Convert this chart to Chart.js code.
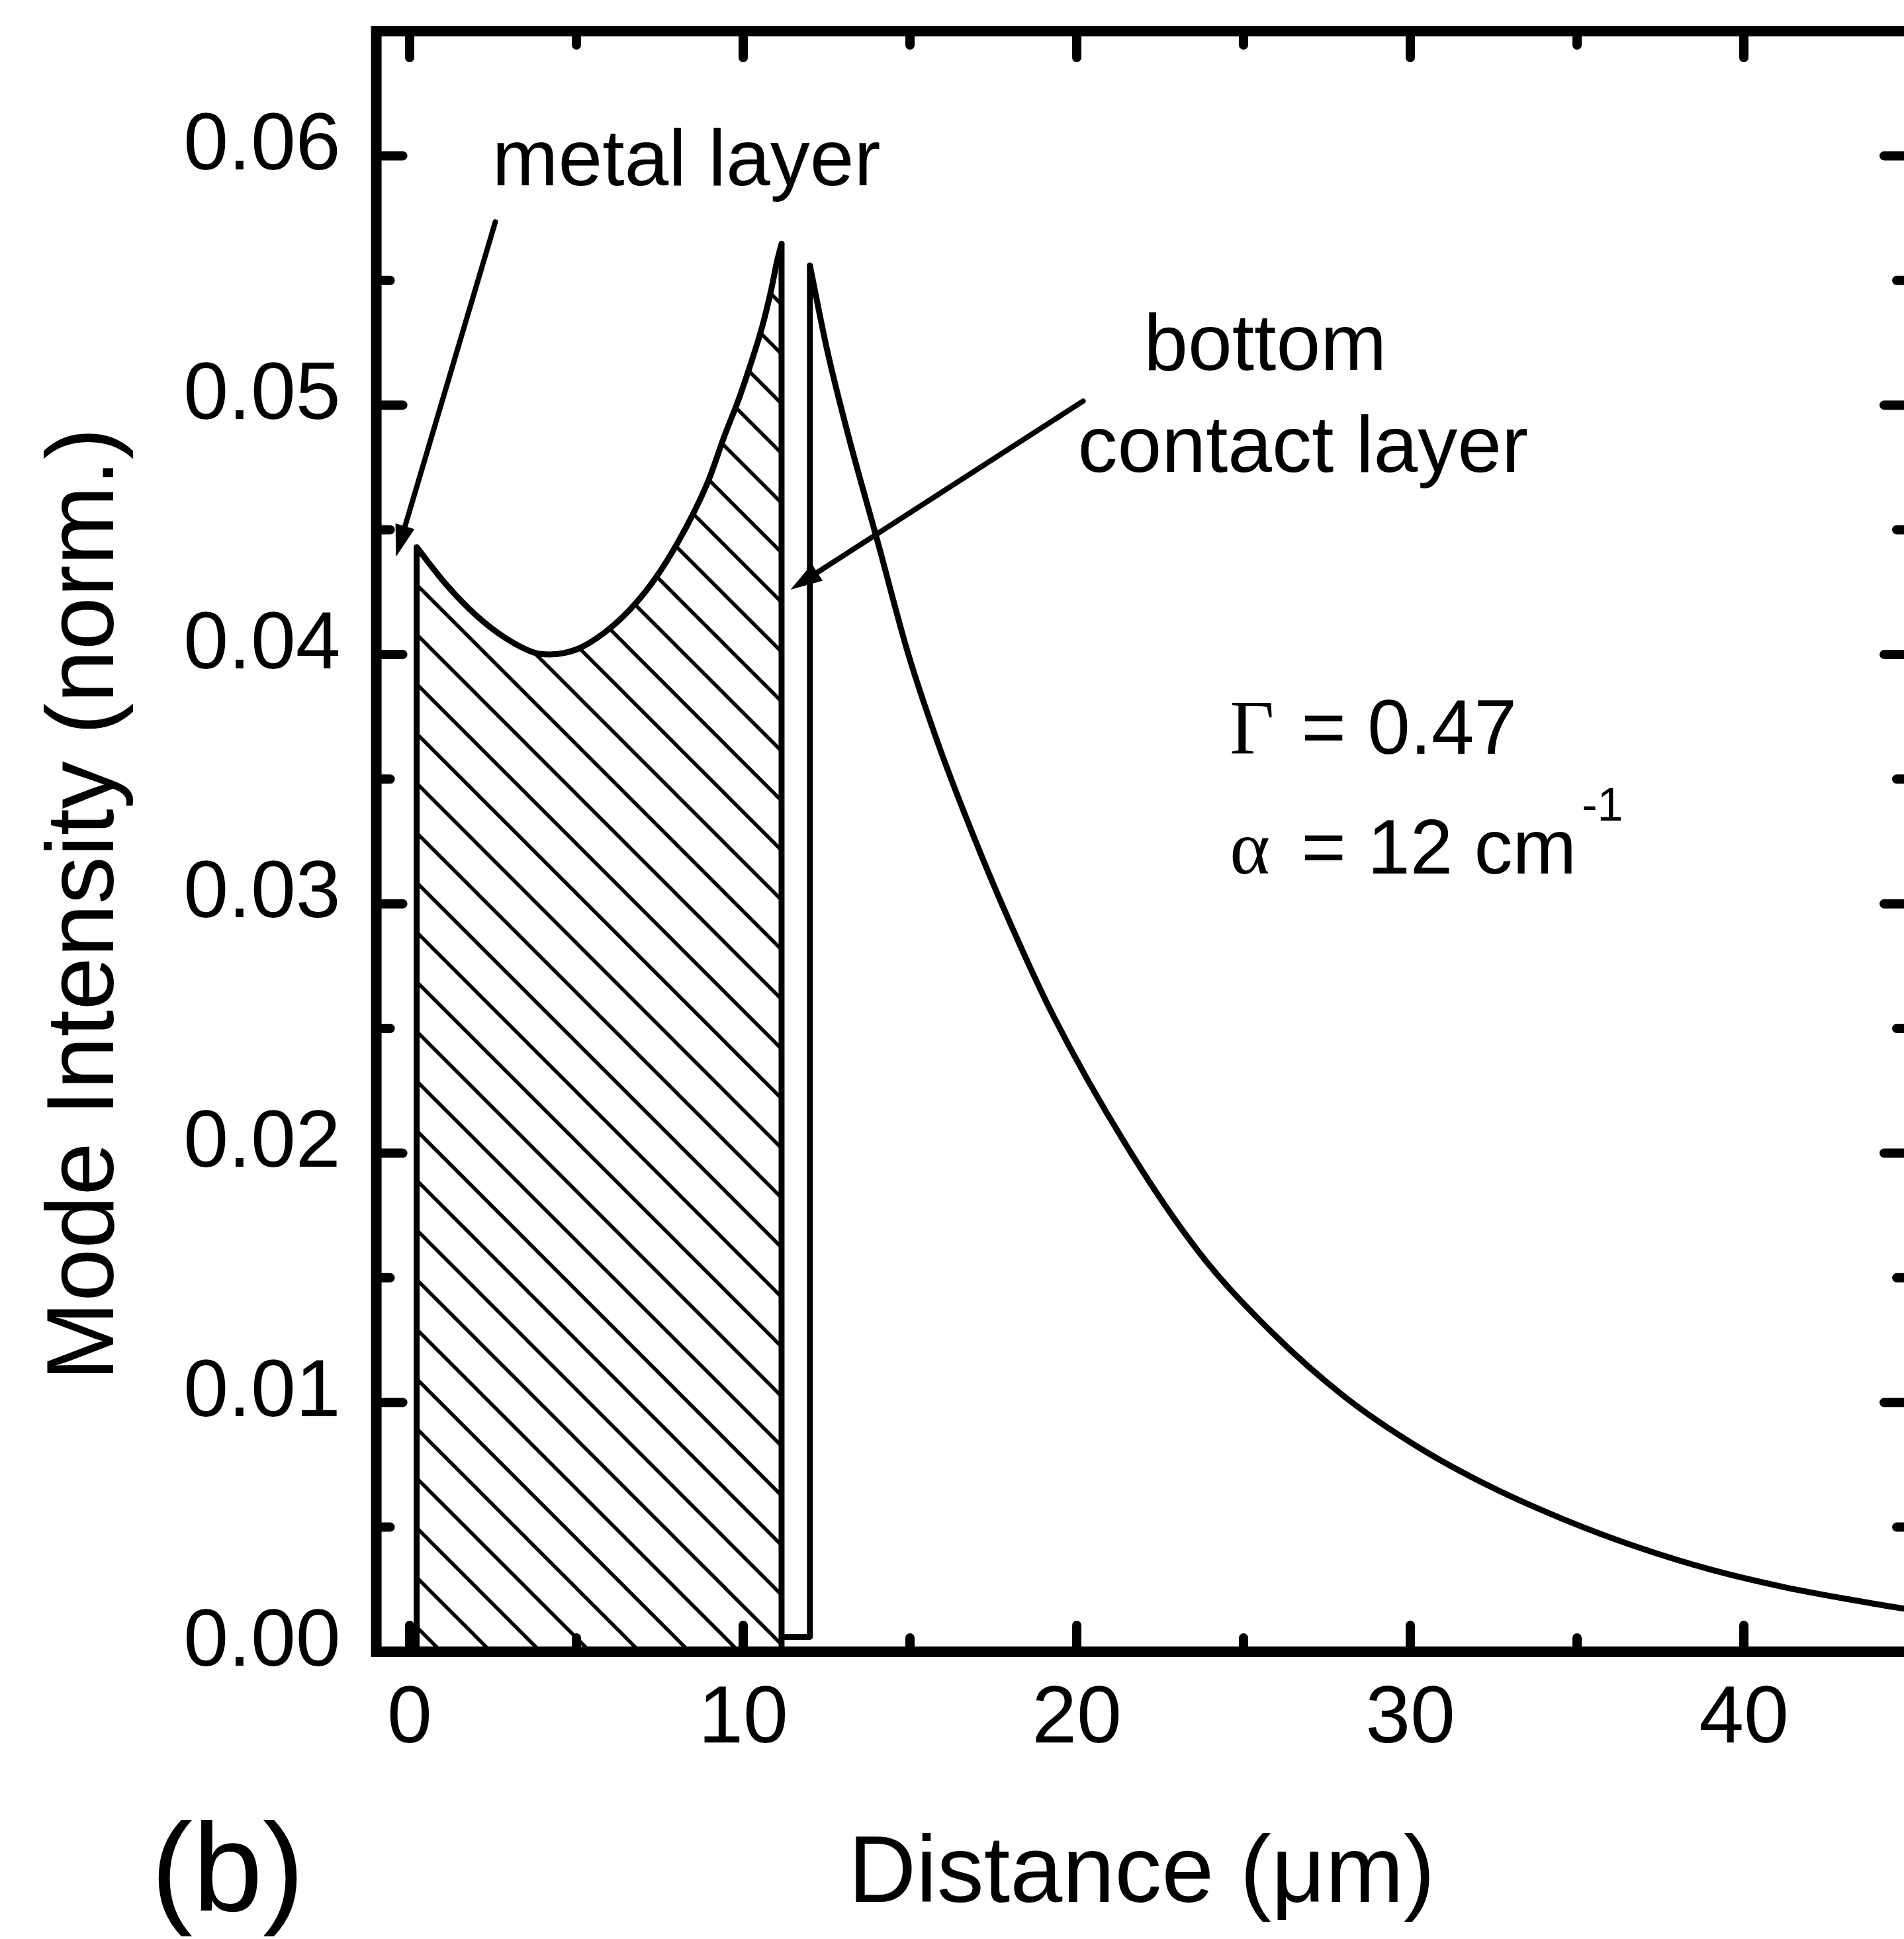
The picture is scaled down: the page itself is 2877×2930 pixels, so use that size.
<!DOCTYPE html>
<html lang="en">
<head>
  <meta charset="UTF-8">
  <title>Mode Intensity vs Distance</title>
  <script src="https://cdn.jsdelivr.net/npm/chart.js"></script>
  <style>
    html, body { margin: 0; padding: 0; background: #fff; overflow: hidden; }
    #wrap { width: 2877px; height: 2930px; overflow: hidden; }
  </style>
</head>
<body>
  <div id="wrap"><canvas id="modeChart" width="2940" height="2930"></canvas></div>

  <script>
    // axis ticks
    const xTicks = [0, 10, 20, 30, 40];
    const xMinorTicks = [5, 15, 25, 35];
    const yTicks = [0, 0.01, 0.02, 0.03, 0.04, 0.05, 0.06];
    const yMinorTicks = [0.005, 0.015, 0.025, 0.035, 0.045, 0.055];

    // active region profile (hatched)
    const layerX = [0.21, 1.1, 2.0, 2.87, 3.76, 4.2, 4.64, 5.17, 6.06, 6.77, 7.39, 8.0, 8.54, 8.98, 9.42, 9.87, 10.23, 10.58, 10.84, 11.02, 11.15];
    const layerY = [0.0443, 0.0428, 0.04156, 0.04066, 0.04006, 0.0400, 0.04006, 0.0403, 0.04111, 0.04204, 0.0431, 0.0444, 0.04575, 0.04705, 0.0487, 0.05025, 0.05167, 0.0532, 0.05463, 0.0558, 0.05647];

    // left edge of the active region
    const edgeX = [0.21, 0.21];
    const edgeY = [0, 0.0443];

    // right edge + bottom contact gap
    const gapX = [11.15, 11.15, 11.15, 12.0, 12.0];
    const gapY = [0.05647, 0, 0.0006, 0.0006, 0.0556];

    // decaying tail in the substrate
    const tailX = [12.0, 12.52, 13.12, 14.04, 14.95, 15.86, 16.91, 17.98, 19.3, 21.49, 23.68, 25.86, 28.06, 30.25, 32.44, 34.62, 36.81, 39.0, 41.19, 43.38, 44.87, 45.6];
    const tailY = [0.0556, 0.05219, 0.04894, 0.04448, 0.04001, 0.03636, 0.0327, 0.0293, 0.0255, 0.0203, 0.0160, 0.0128, 0.0102, 0.0082, 0.0066, 0.0053, 0.0042, 0.0033, 0.0026, 0.00205, 0.00172, 0.00163];

    const SANS = '"Liberation Sans", Arial, Helvetica, sans-serif';
    const SERIF = '"Liberation Serif", "Times New Roman", serif';

    function hatchPattern(ctx) {
      const s = 75;
      const c = document.createElement('canvas');
      c.width = s; c.height = s;
      const g = c.getContext('2d');
      g.strokeStyle = '#000';
      g.lineWidth = 5.5;
      g.beginPath();
      g.moveTo(-6, -6); g.lineTo(s + 6, s + 6);
      g.moveTo(s - 12, -12); g.lineTo(s + 12, 12);
      g.moveTo(-12, s - 12); g.lineTo(12, s + 12);
      g.stroke();
      const p = ctx.createPattern(c, 'repeat');
      p.setTransform(new DOMMatrix([1, 0, 0, 1, 46, 0]));
      return p;
    }

    function arrow(ctx, x0, y0, x1, y1) {
      const dx = x1 - x0, dy = y1 - y0, L = Math.hypot(dx, dy);
      const ux = dx / L, uy = dy / L;
      const hl = 48, hw = 15;
      const bx = x1 - ux * hl, by = y1 - uy * hl;
      ctx.beginPath();
      ctx.moveTo(x0, y0);
      ctx.lineTo(bx + ux * 8, by + uy * 8);
      ctx.stroke();
      ctx.beginPath();
      ctx.moveTo(x1, y1);
      ctx.lineTo(bx - uy * hw, by + ux * hw);
      ctx.lineTo(bx + uy * hw, by - ux * hw);
      ctx.closePath();
      ctx.fill();
    }

    // frame, inward ticks, titles and labels
    const decorations = {
      id: 'decorations',
      afterDatasetsDraw(chart) {
        const { ctx, chartArea: a, scales: { x, y } } = chart;
        ctx.save();
        ctx.strokeStyle = '#000';
        ctx.fillStyle = '#000';

        ctx.lineWidth = 16;
        ctx.lineJoin = 'miter';
        ctx.strokeRect(a.left, a.top, a.right - a.left, a.bottom - a.top);

        ctx.lineWidth = 14;
        ctx.lineCap = 'round';
        const tick = (v, len, horiz) => {
          ctx.beginPath();
          if (horiz) {
            const px = x.getPixelForValue(v);
            ctx.moveTo(px, a.bottom); ctx.lineTo(px, a.bottom - len);
            ctx.moveTo(px, a.top); ctx.lineTo(px, a.top + len);
          } else {
            const py = y.getPixelForValue(v);
            ctx.moveTo(a.left, py); ctx.lineTo(a.left + len, py);
            ctx.moveTo(a.right, py); ctx.lineTo(a.right - len, py);
          }
          ctx.stroke();
        };
        xTicks.forEach(v => tick(v, 40, true));
        xMinorTicks.forEach(v => tick(v, 21, true));
        yTicks.filter(v => v > 0).forEach(v => tick(v, 40, false));
        yMinorTicks.forEach(v => tick(v, 21, false));

        // arrows
        ctx.lineWidth = 8;
        ctx.lineCap = 'round';
        arrow(ctx, x.getPixelForValue(2.57), y.getPixelForValue(0.05735),
                   x.getPixelForValue(-0.41), y.getPixelForValue(0.04392));
        arrow(ctx, x.getPixelForValue(20.19), y.getPixelForValue(0.05016),
                   x.getPixelForValue(11.42), y.getPixelForValue(0.04260));

        // annotation text
        ctx.textAlign = 'left';
        ctx.textBaseline = 'alphabetic';
        ctx.font = '120px ' + SANS;
        ctx.fillText('metal layer', x.getPixelForValue(2.47), y.getPixelForValue(0.05881));
        ctx.fillText('bottom', x.getPixelForValue(22.01), y.getPixelForValue(0.05141));
        ctx.fillText('contact layer', x.getPixelForValue(20.03), y.getPixelForValue(0.04732));

        const tx = x.getPixelForValue(24.59);
        let by = y.getPixelForValue(0.03601);
        ctx.font = '116px ' + SERIF;
        ctx.fillText('\u0393', tx, by);
        ctx.font = '116px ' + SANS;
        ctx.fillText('= 0.47', tx + 108, by);

        by = y.getPixelForValue(0.03121);
        ctx.font = '116px ' + SERIF;
        ctx.fillText('\u03B1', tx, by);
        ctx.font = '116px ' + SANS;
        const main = '= 12 cm';
        ctx.fillText(main, tx + 108, by);
        const w = ctx.measureText(main).width;
        ctx.font = '70px ' + SANS;
        ctx.fillText('-1', tx + 108 + w + 8, by - 80);

        ctx.restore();
      },
      afterDraw(chart) {
        const { ctx, chartArea: a } = chart;
        ctx.save();
        ctx.fillStyle = '#000';
        ctx.textBaseline = 'alphabetic';
        ctx.textAlign = 'center';
        ctx.font = '142px ' + SANS;
        ctx.fillText('Distance (\u03BCm)', 1725, 2874);

        ctx.font = '190px ' + SANS;
        ctx.fillText('(b)', 344, 2887);

        ctx.translate(171, (a.top + a.bottom) / 2 + 95);
        ctx.rotate(-Math.PI / 2);
        ctx.font = '144px ' + SANS;
        ctx.fillText('Mode Intensity (norm.)', 0, 0);
        ctx.restore();
      }
    };

    const canvas = document.getElementById('modeChart');
    const ctx2d = canvas.getContext('2d');

    const pts = (xs, ys) => xs.map((v, i) => ({ x: v, y: ys[i] }));
    const lineStyle = { borderColor: '#000', borderWidth: 9, pointRadius: 0, fill: false, borderJoinStyle: 'round', borderCapStyle: 'round' };

    new Chart(canvas, {
      type: 'line',
      data: {
        datasets: [
          Object.assign({}, lineStyle, {
            data: pts(layerX, layerY),
            backgroundColor: hatchPattern(ctx2d),
            fill: 'origin',
            cubicInterpolationMode: 'monotone'
          }),
          Object.assign({}, lineStyle, { data: pts(edgeX, edgeY), tension: 0 }),
          Object.assign({}, lineStyle, { data: pts(gapX, gapY), tension: 0 }),
          Object.assign({}, lineStyle, { data: pts(tailX, tailY), cubicInterpolationMode: 'monotone' })
        ]
      },
      options: {
        responsive: false,
        animation: false,
        devicePixelRatio: 1,
        events: [],
        layout: { padding: { left: 0, top: 47, right: 53, bottom: 0 } },
        plugins: { legend: { display: false }, tooltip: { enabled: false } },
        scales: {
          x: {
            type: 'linear',
            min: -1,
            max: 45,
            grid: { display: false, drawTicks: false },
            border: { display: false },
            afterBuildTicks: s => { s.ticks = xTicks.map(v => ({ value: v })); },
            afterFit: s => { s.height = 434; s.paddingLeft = 0; s.paddingRight = 0; },
            ticks: {
              autoSkip: false,
              maxRotation: 0,
              padding: 30,
              color: '#000',
              font: { family: SANS, size: 122 },
              callback: v => String(v)
            }
          },
          y: {
            type: 'linear',
            min: 0,
            max: 0.065,
            grid: { display: false, drawTicks: false },
            border: { display: false },
            afterBuildTicks: s => { s.ticks = yTicks.map(v => ({ value: v })); },
            afterFit: s => { s.width = 568.6; s.paddingTop = 0; s.paddingBottom = 0; },
            ticks: {
              autoSkip: false,
              padding: 54,
              labelOffset: -13,
              color: '#000',
              font: { family: SANS, size: 122 },
              callback: v => v.toFixed(2)
            }
          }
        }
      },
      plugins: [decorations]
    });
  </script>
</body>
</html>
